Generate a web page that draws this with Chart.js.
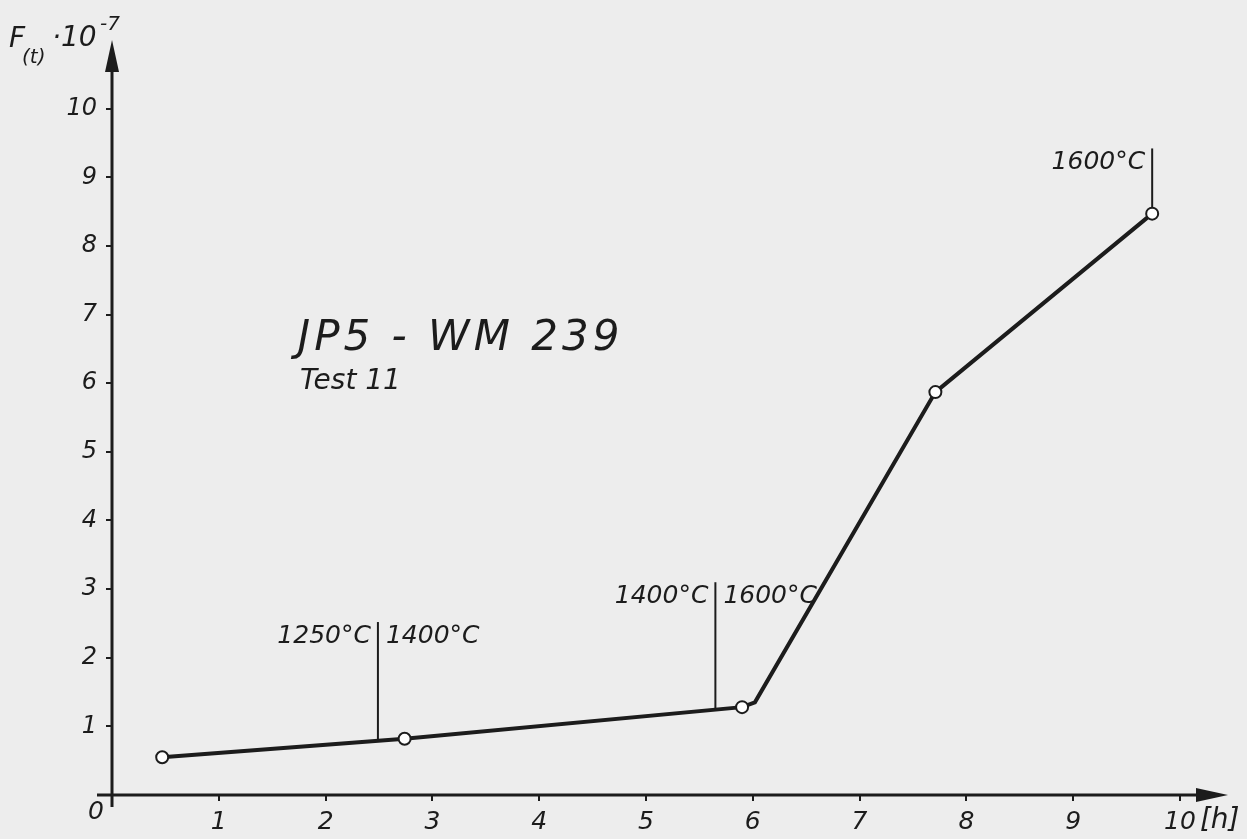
<!DOCTYPE html>
<html>
<head>
<meta charset="utf-8">
<title>JP5 - WM 239 Test 11</title>
<script src="https://cdn.jsdelivr.net/npm/chart.js@4.4.1/dist/chart.umd.min.js"></script>
<style>
  html, body { margin: 0; padding: 0; background: #ededed; }
  canvas { display: block; }
</style>
</head>
<body>
<canvas id="myChart" width="1247" height="839"></canvas>
<script>
// Values
const hours   = [0.47, 2.74, 5.90, 6.02, 7.71, 9.74];   // time [h]
const fValues = [0.55, 0.82, 1.28, 1.35, 5.87, 8.47];   // F(t) * 10^-7
const showPoint = [true, true, true, false, true, true];

// Temperature change markers (vertical strokes)
const markerHours  = [2.49, 5.65, 9.74];
const markerBottom = [0.79, 1.24, 8.47];
const markerTop    = [2.52, 3.10, 9.42];
const leftLabels   = ['1250°C', '1400°C', '1600°C'];
const rightLabels  = ['1400°C', '1600°C', ''];

const xTickLabels = ['1', '2', '3', '4', '5', '6', '7', '8', '9', '10'];
const yTickLabels = ['1', '2', '3', '4', '5', '6', '7', '8', '9', '10'];

const titleLine1 = 'JP5 - WM 239';
const titleLine2 = 'Test 11';

const ink = '#1c1c1c';
const hand = 'italic 25px "DejaVu Sans"';

// Build datasets
const mainData = hours.map((h, i) => ({ x: h, y: fValues[i] }));
const markerSets = markerHours.map((h, i) => ({
  data: [{ x: h, y: markerBottom[i] }, { x: h, y: markerTop[i] }],
  borderColor: ink,
  borderWidth: 2,
  pointRadius: 0,
  order: 2
}));

// Paper background
const paperPlugin = {
  id: 'paper',
  beforeDraw(chart) {
    const c = chart.ctx;
    c.save();
    c.fillStyle = '#ededed';
    c.fillRect(0, 0, chart.width, chart.height);
    c.restore();
  }
};

// Axes with arrow heads, origin label, annotations
const sketchPlugin = {
  id: 'sketch',
  afterDatasetsDraw(chart) {
    const c = chart.ctx;
    const xs = chart.scales.x, ys = chart.scales.y;
    const a = chart.chartArea;
    const ox = xs.getPixelForValue(0), oy = ys.getPixelForValue(0);
    c.save();
    c.strokeStyle = ink;
    c.fillStyle = ink;
    c.lineWidth = 3;
    // y axis
    c.beginPath();
    c.moveTo(ox, oy + 12);
    c.lineTo(ox, a.top + 28);
    c.stroke();
    c.beginPath();
    c.moveTo(ox, a.top);
    c.lineTo(ox - 7, a.top + 32);
    c.lineTo(ox + 7, a.top + 32);
    c.closePath();
    c.fill();
    // x axis
    c.beginPath();
    c.moveTo(ox - 15, oy);
    c.lineTo(a.right - 28, oy);
    c.stroke();
    c.beginPath();
    c.moveTo(a.right, oy);
    c.lineTo(a.right - 32, oy - 7);
    c.lineTo(a.right - 32, oy + 7);
    c.closePath();
    c.fill();

    c.font = hand;
    c.textBaseline = 'middle';
    // origin
    c.textAlign = 'center';
    c.fillText('0', ox - 16, oy + 17);
    // unit of x axis
    c.textAlign = 'left';
    c.font = 'italic 28px "DejaVu Sans"';
    c.fillText('[h]', xs.getPixelForValue(10) + 20, oy + 26);

    // y axis title F(t)·10^-7
    c.textBaseline = 'alphabetic';
    c.font = 'italic 28px "DejaVu Sans"';
    c.fillText('F', 9, 47);
    c.font = 'italic 20px "DejaVu Sans"';
    c.fillText('(t)', 22, 63);
    c.font = 'italic 28px "DejaVu Sans"';
    c.fillText('·10', 52, 46);
    c.font = 'italic 20px "DejaVu Sans"';
    c.fillText('-7', 100, 30);

    // temperature labels
    c.font = hand;
    c.textBaseline = 'middle';
    markerHours.forEach((h, i) => {
      const px = xs.getPixelForValue(h);
      const py = ys.getPixelForValue(markerTop[i]) + 14;
      c.textAlign = 'right';
      c.fillText(leftLabels[i], px - 7, py);
      c.textAlign = 'left';
      c.fillText(rightLabels[i], px + 8, py);
    });

    // sheet title
    c.textAlign = 'left';
    c.textBaseline = 'alphabetic';
    c.font = 'italic 42px "DejaVu Sans"';
    c.letterSpacing = '4px';
    c.fillText(titleLine1, xs.getPixelForValue(1.74), ys.getPixelForValue(6.48));
    c.font = 'italic 28px "DejaVu Sans"';
    c.letterSpacing = '0px';
    c.fillText(titleLine2, xs.getPixelForValue(1.76), ys.getPixelForValue(5.92));
    c.restore();
  }
};

const ctx = document.getElementById('myChart');
const myChart = new Chart(ctx, {
  type: 'line',
  data: {
    datasets: [
      {
        data: mainData,
        borderColor: ink,
        borderWidth: 4,
        tension: 0,
        pointRadius: showPoint.map(s => s ? 6 : 0),
        pointBackgroundColor: '#ffffff',
        pointBorderColor: ink,
        pointBorderWidth: 2,
        order: 1
      },
      ...markerSets
    ]
  },
  options: {
    responsive: false,
    animation: false,
    layout: { padding: { top: 40, right: 19, left: 0, bottom: 0 } },
    plugins: {
      legend: { display: false },
      tooltip: { enabled: false }
    },
    scales: {
      x: {
        type: 'linear',
        min: 0,
        max: 10.45,
        afterFit: s => { s.height = 44; },
        border: { display: false },
        grid: {
          drawOnChartArea: false,
          tickLength: 6,
          lineWidth: 2,
          color: c => (c.tick && c.tick.value >= 1 && c.tick.value <= 10) ? ink : 'rgba(0,0,0,0)'
        },
        ticks: {
          stepSize: 1,
          includeBounds: false,
          autoSkip: false,
          maxRotation: 0,
          padding: 6,
          color: ink,
          font: { family: 'DejaVu Sans', style: 'italic', size: 25 },
          callback: v => (v >= 1 && v <= 10) ? xTickLabels[v - 1] : ''
        }
      },
      y: {
        type: 'linear',
        min: 0,
        max: 11,
        afterFit: s => { s.width = 112; },
        border: { display: false },
        grid: {
          drawOnChartArea: false,
          tickLength: 6,
          lineWidth: 2,
          color: c => (c.tick && c.tick.value >= 1 && c.tick.value <= 10) ? ink : 'rgba(0,0,0,0)'
        },
        ticks: {
          stepSize: 1,
          includeBounds: false,
          autoSkip: false,
          padding: 9,
          color: ink,
          font: { family: 'DejaVu Sans', style: 'italic', size: 24 },
          callback: v => (v >= 1 && v <= 10) ? yTickLabels[v - 1] : ''
        }
      }
    }
  },
  plugins: [paperPlugin, sketchPlugin]
});
</script>
</body>
</html>
